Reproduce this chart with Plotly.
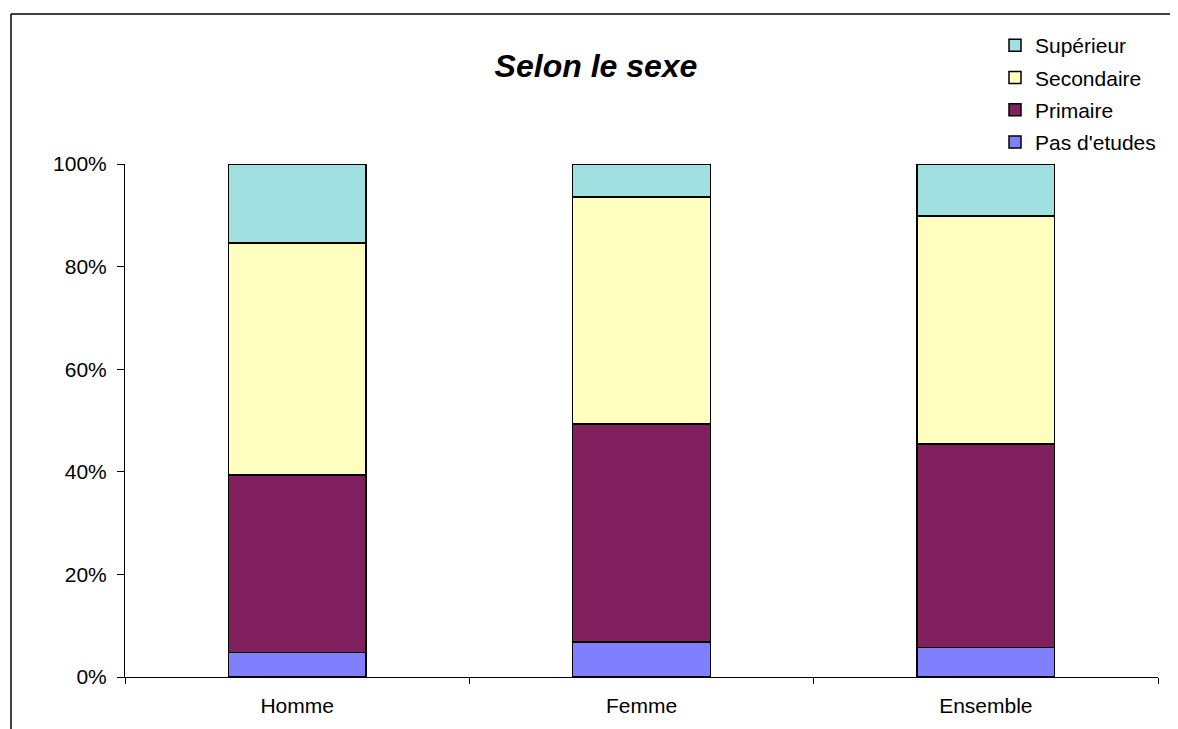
import plotly.graph_objects as go

categories = ["Homme", "Femme", "Ensemble"]
pas_etudes = [4.8, 6.8, 5.8]
primaire = [34.6, 42.5, 39.6]
secondaire = [45.2, 44.3, 44.5]
superieur = [15.4, 6.4, 10.1]

series = [
    ("Pas d'etudes", pas_etudes, "#8080FF"),
    ("Primaire", primaire, "#80205F"),
    ("Secondaire", secondaire, "#FFFFC0"),
    ("Supérieur", superieur, "#A0E0E0"),
]

fig = go.Figure()
for i, (name, vals, col) in enumerate(series):
    fig.add_trace(go.Bar(
        x=categories, y=[v / 100 for v in vals], name=name, legendgroup=name,
        legendrank=1000 - i,
        marker=dict(color=col, line=dict(color="black", width=1.5)),
        width=0.4,
    ))

FONT = "Liberation Sans, Arial, sans-serif"
OFF = 8  # page body margin
W, H = 1178 - OFF, 729 - OFF
# target screen coordinates
X0, X1, Y0, Y1 = 125, 1158, 164, 677
L, R = X0 - OFF, W - (X1 - OFF)
T, B = Y0 - OFF, H - (Y1 - OFF)
pw, ph = X1 - X0, Y1 - Y0

def px_x(p):
    return (p - X0) / pw

def px_y(p):
    return (Y1 - p) / ph

fig.update_layout(
    width=W, height=H,
    barmode="stack",
    paper_bgcolor="white", plot_bgcolor="white",
    margin=dict(l=L, r=R, t=T, b=B),
    font=dict(family=FONT, size=21, color="black"),
    title=dict(text="<b><i>Selon le sexe</i></b>", font=dict(family=FONT, size=32, color="black"),
               xref="paper", x=px_x(596), xanchor="center",
               yref="container", y=1 - (66 - OFF) / H, yanchor="middle"),
    showlegend=True,
    legend=dict(traceorder="grouped", x=px_x(995), y=px_y(25), xanchor="left", yanchor="top",
                font=dict(family=FONT, size=21), bgcolor="rgba(0,0,0,0)",
                itemwidth=30, tracegroupgap=2),
    xaxis=dict(showline=True, linecolor="black", linewidth=1, ticks="outside", ticklen=6,
               tickcolor="black", tickson="boundaries", showgrid=False, tickfont=dict(size=21),
               ticklabelstandoff=10),
    yaxis=dict(range=[0, 1], dtick=0.2, tickformat=".0%", showline=True, linecolor="black",
               linewidth=1, ticks="outside", ticklen=7, tickcolor="black", showgrid=False,
               zeroline=False, tickfont=dict(size=21), ticklabelstandoff=6),
    shapes=[
        dict(type="line", xref="paper", yref="paper", x0=px_x(11), x1=px_x(11),
             y0=px_y(740), y1=px_y(14), line=dict(color="black", width=1.5)),
        dict(type="line", xref="paper", yref="paper", x0=px_x(11), x1=px_x(1190),
             y0=px_y(14), y1=px_y(14), line=dict(color="black", width=1.5)),
    ],
)

fig.write_html("out.html")
